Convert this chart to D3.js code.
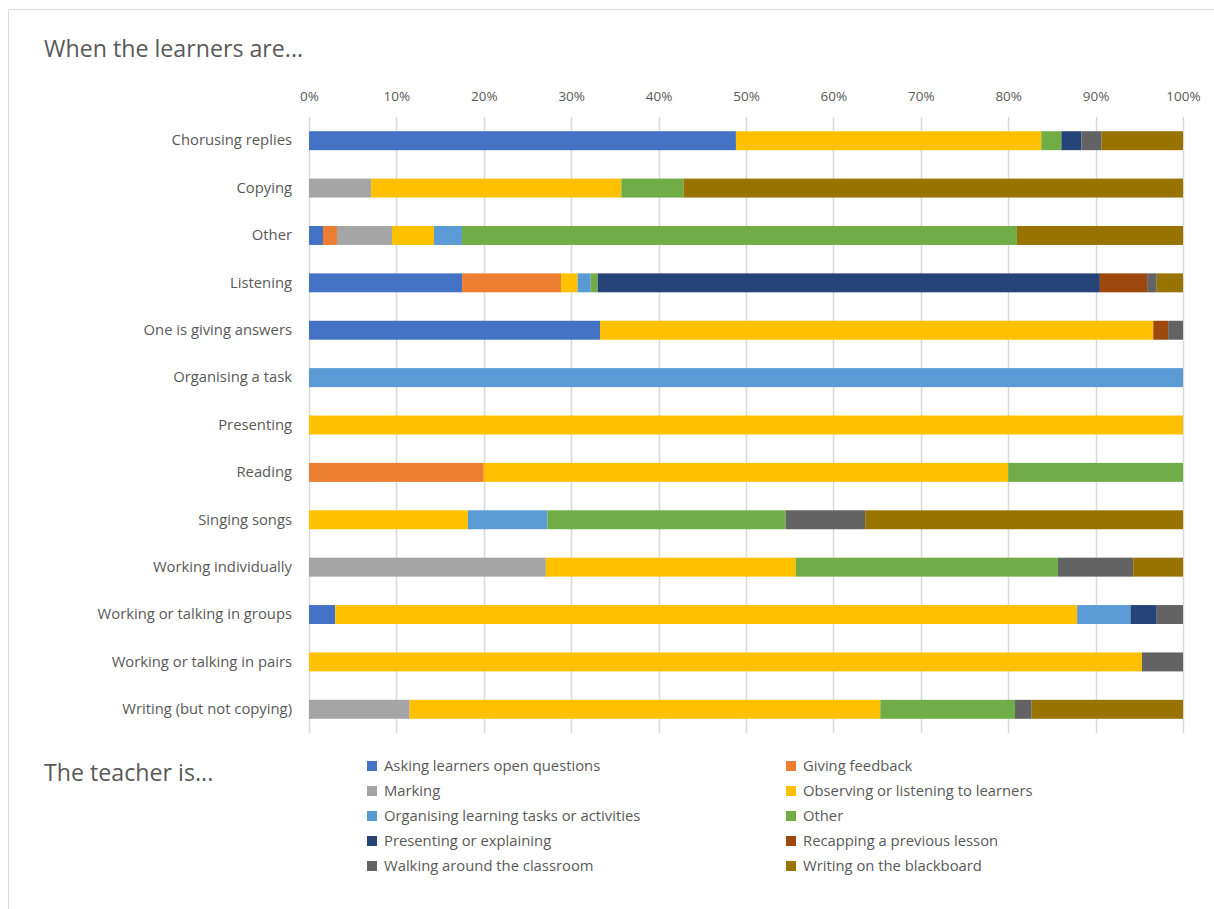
<!DOCTYPE html>
<html>
<head>
<meta charset="utf-8">
<script src="https://cdn.jsdelivr.net/npm/d3@7/dist/d3.min.js"></script>
<style>
  html, body { margin: 0; padding: 0; background: #fff; }
  svg { display: block; }
  text { font-family: "Open Sans", "Liberation Sans", sans-serif; fill: #595959; }
</style>
</head>
<body>
<svg id="chart" width="1214" height="909"></svg>
<script>
// Learner activities (rows, top to bottom)
const categories = [
  "Chorusing replies",
  "Copying",
  "Other",
  "Listening",
  "One is giving answers",
  "Organising a task",
  "Presenting",
  "Reading",
  "Singing songs",
  "Working individually",
  "Working or talking in groups",
  "Working or talking in pairs",
  "Writing (but not copying)"
];

// Teacher activities (stack order and legend labels)
const seriesNames = [
  "Asking learners open questions",
  "Giving feedback",
  "Marking",
  "Observing or listening to learners",
  "Organising learning tasks or activities",
  "Other",
  "Presenting or explaining",
  "Recapping a previous lesson",
  "Walking around the classroom",
  "Writing on the blackboard"
];

const seriesColors = [
  "#4472C4", "#ED7D31", "#A5A5A5", "#FFC000", "#5B9BD5",
  "#70AD47", "#264478", "#9E480E", "#636363", "#997300"
];

// Share of observations (%) for each teacher activity, one value per learner activity
const asking     = [48.8, 0,    1.6,  17.5, 33.3, 0,   0,   0,  0,    0,    3.0,  0,    0];
const feedback   = [0,    0,    1.6,  11.3, 0,    0,   0,   20, 0,    0,    0,    0,    0];
const marking    = [0,    7.1,  6.3,  0,    0,    0,   0,   0,  0,    27.1, 0,    0,    11.5];
const observing  = [34.9, 28.6, 4.8,  1.9,  63.3, 0,   100, 60, 18.2, 28.6, 84.8, 95.3, 53.8];
const organising = [0,    0,    3.2,  1.5,  0,    100, 0,   0,  9.1,  0,    6.1,  0,    0];
const other      = [2.3,  7.1,  63.5, 0.8,  0,    0,   0,   20, 27.3, 30.0, 0,    0,    15.4];
const presenting = [2.3,  0,    0,    57.4, 0,    0,   0,   0,  0,    0,    3.0,  0,    0];
const recapping  = [0,    0,    0,    5.4,  1.7,  0,   0,   0,  0,    0,    0,    0,    0];
const walking    = [2.3,  0,    0,    1.1,  1.7,  0,   0,   0,  9.1,  8.6,  3.0,  4.7,  1.9];
const writing    = [9.3,  57.1, 19.0, 3.0,  0,    0,   0,   0,  36.4, 5.7,  0,    0,    17.3];

const seriesValues = [asking, feedback, marking, observing, organising,
                      other, presenting, recapping, walking, writing];

const xTicks = [0, 0.1, 0.2, 0.3, 0.4, 0.5, 0.6, 0.7, 0.8, 0.9, 1];

// Build row records for d3.stack
const rows = categories.map((c, i) => {
  const r = { category: c };
  seriesNames.forEach((s, j) => { r[s] = seriesValues[j][i]; });
  return r;
});

const stack = d3.stack()
  .keys(seriesNames)
  .offset(d3.stackOffsetExpand);
const stacked = stack(rows);

const svg = d3.select("#chart");

// Chart frame
svg.append("path")
  .attr("d", "M8.5,909 L8.5,9.5 L1214,9.5")
  .attr("fill", "none")
  .attr("stroke", "#d9d9d9")
  .attr("stroke-width", 1);

const x = d3.scaleLinear().domain([0, 1]).range([309, 1183]);
const y = d3.scaleBand().domain(categories).range([117, 733]).paddingInner(0.6).paddingOuter(0.3);

// Vertical gridlines
svg.append("g")
  .selectAll("line")
  .data(xTicks)
  .join("line")
  .attr("x1", d => Math.round(x(d)) + 0.5)
  .attr("x2", d => Math.round(x(d)) + 0.5)
  .attr("y1", 117)
  .attr("y2", 733)
  .attr("stroke", "#d9d9d9")
  .attr("stroke-width", 1.5);

// Top percentage axis
const xAxis = d3.axisTop(x)
  .tickValues(xTicks)
  .tickFormat(d3.format(".0%"))
  .tickSize(0)
  .tickPadding(0);
const gx = svg.append("g")
  .attr("transform", "translate(0,101)")
  .call(xAxis);
gx.select(".domain").remove();
gx.selectAll("text")
  .attr("fill", "#595959")
  .style("font-size", "13.5px")
  .style("font-family", '"Open Sans", sans-serif');

// Stacked bars
svg.append("g")
  .selectAll("g")
  .data(stacked)
  .join("g")
  .attr("fill", (d, i) => seriesColors[i])
  .selectAll("rect")
  .data(d => d)
  .join("rect")
  .attr("x", d => x(d[0]))
  .attr("width", d => Math.max(0, x(d[1]) - x(d[0])))
  .attr("y", d => y(d.data.category))
  .attr("height", y.bandwidth());

// Category labels
const yAxis = d3.axisLeft(y).tickSize(0).tickPadding(17);
const gy = svg.append("g")
  .attr("transform", "translate(309,0)")
  .call(yAxis);
gy.select(".domain").remove();
gy.selectAll("text")
  .attr("fill", "#595959")
  .style("font-size", "14.8px")
  .style("font-family", '"Open Sans", sans-serif');

// Headings
svg.append("text")
  .attr("x", 44)
  .attr("y", 57)
  .style("font-size", "23.2px")
  .text("When the learners are...");

svg.append("text")
  .attr("x", 44)
  .attr("y", 781)
  .style("font-size", "23.2px")
  .text("The teacher is...");

// Legend: two columns, filled row by row
const legendCols = [367, 786];
const legendTop = 766;
const legendStep = 25;
const legend = svg.append("g")
  .selectAll("g")
  .data(seriesNames)
  .join("g")
  .attr("transform", (d, i) => `translate(${legendCols[i % 2]},${legendTop + Math.floor(i / 2) * legendStep})`);

legend.append("rect")
  .attr("x", 0)
  .attr("y", -5)
  .attr("width", 10)
  .attr("height", 10)
  .attr("fill", (d, i) => seriesColors[i]);

legend.append("text")
  .attr("x", 17)
  .attr("y", 5)
  .style("font-size", "14.8px")
  .text(d => d);
</script>
</body>
</html>
